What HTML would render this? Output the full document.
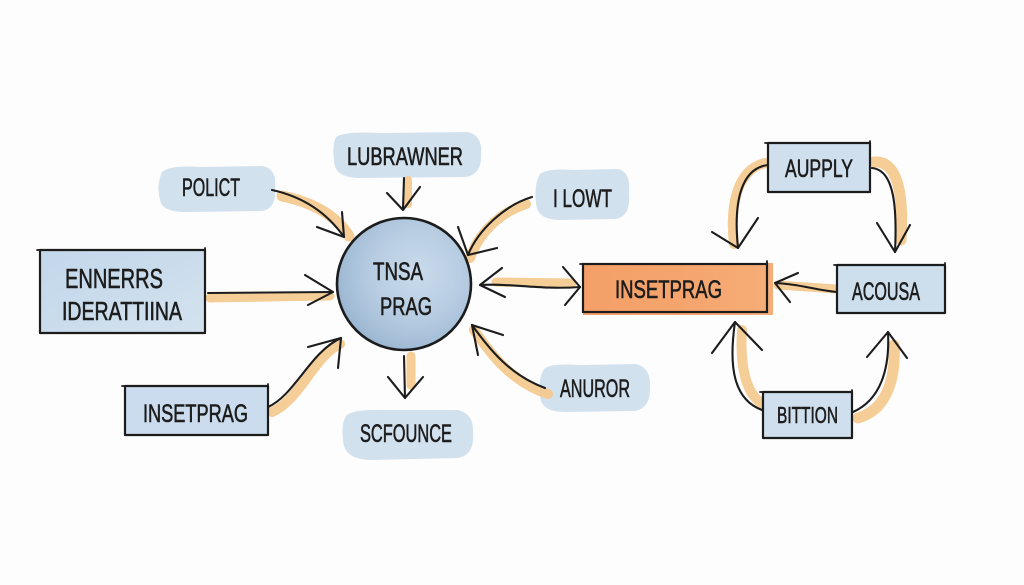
<!DOCTYPE html>
<html><head><meta charset="utf-8">
<style>
html,body{margin:0;padding:0;background:#fdfdfd;}
svg{display:block;}
text{font-family:"Liberation Sans","DejaVu Sans",sans-serif;fill:#1c1c1c;stroke:#1c1c1c;stroke-width:0.6;}
</style></head>
<body>
<svg width="1024" height="585" viewBox="0 0 1024 585" xmlns="http://www.w3.org/2000/svg">
<defs>
  <radialGradient id="cg" cx="0.6" cy="0.42" r="0.66">
    <stop offset="0" stop-color="#c9dbeb"/>
    <stop offset="0.5" stop-color="#b8cde2"/>
    <stop offset="0.85" stop-color="#a2bcd6"/>
    <stop offset="1" stop-color="#93b1ce"/>
  </radialGradient>
  <linearGradient id="og" x1="0" x2="1" y1="0" y2="0">
    <stop offset="0" stop-color="#f4a068"/>
    <stop offset="0.5" stop-color="#f5a46d"/>
    <stop offset="1" stop-color="#f6ad78"/>
  </linearGradient>
  <linearGradient id="bg1" x1="0" x2="1" y1="0" y2="1">
    <stop offset="0" stop-color="#c2d7ea"/>
    <stop offset="1" stop-color="#d3e2ef"/>
  </linearGradient>
</defs>
<rect width="1024" height="585" fill="#fdfdfd"/>

<!-- watercolor blobs -->
<g fill="#d2e1ee">
  <path d="M162,172 Q170,165 200,167 L262,166 Q277,168 275,188 Q277,208 262,211 L190,212 Q162,213 160,200 Q156,186 162,172 Z"/>
  <path d="M336,137 Q345,131 380,133 L468,132 Q483,136 481,155 Q482,174 466,177 L360,178 Q334,178 334,160 Q332,145 336,137 Z"/>
  <path d="M346,416 Q352,409 385,410 L458,410 Q474,414 473,432 Q475,455 458,458 L372,460 Q344,460 343,440 Q341,424 346,416 Z"/>
  <path d="M540,174 Q548,168 572,170 L618,169 Q631,172 629,193 Q631,216 616,219 L560,220 Q537,220 536,203 Q534,184 540,174 Z"/>
  <path d="M544,369 Q550,363 580,365 L636,364 Q651,368 650,386 Q651,408 635,411 L565,412 Q541,412 540,396 Q538,378 544,369 Z"/>
</g>

<!-- orange connector highlights -->
<g fill="none" stroke="#f4c88c" stroke-linecap="round" opacity="0.9">
  <path d="M282,196 Q330,206 349,236" stroke-width="11"/>
  <path d="M408,180 L408,204" stroke-width="8"/>
  <path d="M210,298 L330,296" stroke-width="9"/>
  <path d="M272,412 C300,400 314,356 340,344" stroke-width="10"/>
  <path d="M411,356 L411,385" stroke-width="9"/>
  <path d="M526,204 C496,214 478,236 470,258" stroke-width="10"/>
  <path d="M496,282 L572,283" stroke-width="9"/>
  <path d="M548,394 C512,382 492,356 474,330" stroke-width="10"/>
  <path d="M765,163 C735,170 730,210 734,244" stroke-width="10"/>
  <path d="M874,162 C897,160 904,192 901,240" stroke-width="11"/>
  <path d="M778,285 L836,289" stroke-width="9"/>
  <path d="M766,406 C744,396 740,362 742,330" stroke-width="10"/>
  <path d="M858,418 C886,410 896,380 894,345" stroke-width="11"/>
</g>

<!-- boxes -->
<g stroke="#1c1c1c" stroke-width="2.2" stroke-linejoin="round">
  <rect x="40" y="250" width="165" height="83" fill="url(#bg1)"/>
  <rect x="125" y="386" width="143" height="49" fill="#cadced"/>
</g>
<rect x="583" y="263" width="190" height="52" fill="url(#og)"/>
<g stroke="#1c1c1c" stroke-width="2.2" fill="none">
  <rect x="583" y="264" width="184" height="48"/>
</g>
<g stroke="#1c1c1c" stroke-width="2.2" stroke-linejoin="round">
  <rect x="768" y="143" width="102" height="49" fill="#cfdfed"/>
  <rect x="837" y="265" width="108" height="48" fill="#cddeed"/>
  <rect x="763" y="392" width="89" height="46" fill="#cfdfed"/>
</g>
<!-- corner overshoot ticks -->
<g stroke="#1c1c1c" stroke-width="1.8" stroke-linecap="round">
  <path d="M37,250 L42,250 M205,248 L205,252 M122,386 L127,386 M268,384 L268,388 M765,143 L770,143 M870,141 L870,145 M834,265 L839,265 M945,263 L945,267 M760,392 L765,392 M852,390 L852,394 M580,264 L585,264 M767,261 L767,266"/>
</g>

<!-- circle -->
<ellipse cx="404" cy="284" rx="67" ry="66" fill="url(#cg)" stroke="#1c1c1c" stroke-width="2.6"/>

<!-- black connectors -->
<g fill="none" stroke="#1c1c1c" stroke-width="2.1" stroke-linecap="round" stroke-linejoin="round">
  <path d="M272,190 Q318,200 344,237"/>
  <path d="M342,212 L344,237 L317,227"/>
  <path d="M404,178 L403,209"/>
  <path d="M387,193 L403,210 L420,187"/>
  <path d="M208,293 L333,292"/>
  <path d="M305,275 L333,292 L308,305"/>
  <path d="M268,407 C295,395 310,352 341,338"/>
  <path d="M308,347 L341,338 L338,368"/>
  <path d="M404,356 L405,398"/>
  <path d="M388,377 L405,398 L423,377"/>
  <path d="M532,197 C505,205 478,230 468,255"/>
  <path d="M458,227 L468,255 L497,248"/>
  <path d="M480,285 C510,283 540,290 580,287"/>
  <path d="M502,268 L480,285 L505,297"/>
  <path d="M563,267 L580,287 L565,305"/>
  <path d="M545,388 C510,375 490,350 472,325"/>
  <path d="M503,335 L472,325 L478,355"/>
  <path d="M768,165 C742,168 733,200 738,248"/>
  <path d="M712,232 L738,248 L758,218"/>
  <path d="M872,168 C895,170 897,210 895,252"/>
  <path d="M877,223 L895,252 L910,225"/>
  <path d="M837,292 C815,290 800,284 775,283"/>
  <path d="M798,273 L775,283 L790,302"/>
  <path d="M762,410 C735,400 728,370 735,322"/>
  <path d="M712,353 L735,322 L762,350"/>
  <path d="M853,412 C880,400 890,370 888,332"/>
  <path d="M867,357 L888,332 L907,358"/>
</g>

<!-- labels -->
<g font-size="25">
  <text x="65" y="288" font-size="28" textLength="98" lengthAdjust="spacingAndGlyphs">ENNERRS</text>
  <text x="62" y="320" font-size="26" textLength="120" lengthAdjust="spacingAndGlyphs">IDERATTIINA</text>
  <text x="182" y="196" textLength="58" lengthAdjust="spacingAndGlyphs">POLICT</text>
  <text x="347" y="165" textLength="116" lengthAdjust="spacingAndGlyphs">LUBRAWNER</text>
  <text x="373" y="280" textLength="50" lengthAdjust="spacingAndGlyphs">TNSA</text>
  <text x="380" y="315" textLength="52" lengthAdjust="spacingAndGlyphs">PRAG</text>
  <text x="360" y="442" textLength="92" lengthAdjust="spacingAndGlyphs">SCFOUNCE</text>
  <text x="143" y="422" textLength="105" lengthAdjust="spacingAndGlyphs">INSETPRAG</text>
  <text x="553" y="207" textLength="59" lengthAdjust="spacingAndGlyphs">I LOWT</text>
  <text x="560" y="397" textLength="70" lengthAdjust="spacingAndGlyphs">ANUROR</text>
  <text x="615" y="298" textLength="107" lengthAdjust="spacingAndGlyphs">INSETPRAG</text>
  <text x="785" y="177" textLength="68" lengthAdjust="spacingAndGlyphs">AUPPLY</text>
  <text x="852" y="300" textLength="68" lengthAdjust="spacingAndGlyphs">ACOUSA</text>
  <text x="777" y="423" font-size="23" textLength="61" lengthAdjust="spacingAndGlyphs">BITTION</text>
</g>
</svg>
</body></html>
